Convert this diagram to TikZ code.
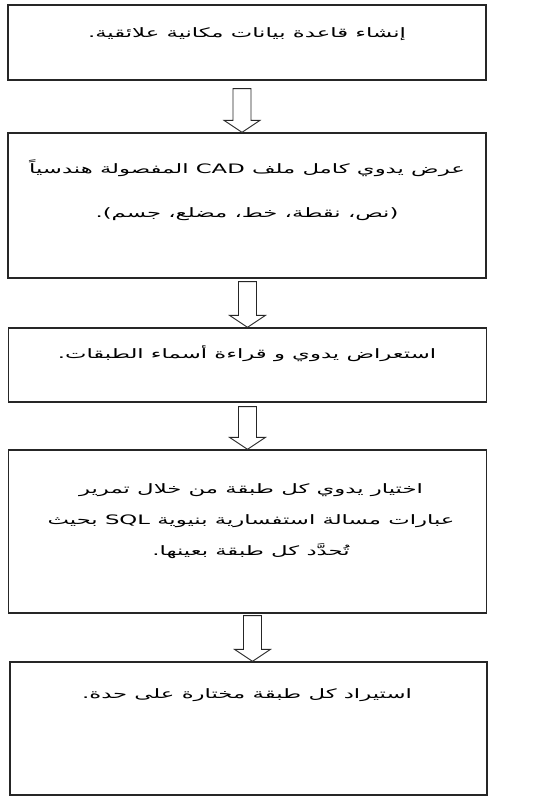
\documentclass[tikz,border=0pt]{standalone}
\usepackage{fontspec}
\newfontfamily\arabicfont[Script=Arabic, FakeStretch=1.75]{DejaVu Sans}
\TeXXeTstate=1
\usetikzlibrary{calc}
\tikzstyle{stage}=[rectangle, draw=black!85, line width=1.3pt, minimum width=478pt, inner sep=0pt]
\tikzstyle{stagetext}=[font=\arabicfont\fontsize{13}{31}\selectfont, inner sep=0pt, align=center]
\tikzstyle{hollow}=[draw=black!85, line width=0.9pt, fill=white, line join=miter]
% hollow block arrow: from, to, gap below the upper box, shift of the tip
\newcommand{\hollowarrow}[4]{%
  \draw[hollow] let \p1=(#1.south), \p2=(#2.north) in
    (\x2+#4-9pt,\y1-#3) -- (\x2+#4-9pt,\y2+12pt) -- (\x2+#4-18pt,\y2+12pt)
    -- (\x2+#4,\y2) -- (\x2+#4+18pt,\y2+12pt) -- (\x2+#4+9pt,\y2+12pt)
    -- (\x2+#4+9pt,\y1-#3) -- cycle;}

\begin{document}
\begin{tikzpicture}[x=1pt, y=-1pt]
  \useasboundingbox[fill=white] (0,0) rectangle (532,799);
  % boxes
  \node(n1)[stage, minimum height=75pt] at (247,42.5) {};
  \node(n2)[stage, minimum height=145pt] at (247,205.5) {};
  \node(n3)[stage, minimum height=74pt] at (247.5,365) {};
  \node(n4)[stage, minimum height=163pt] at (247.5,531.5) {};
  \node(n5)[stage, minimum height=133pt, minimum width=477pt] at (248.5,728.5) {};
  % texts
  \node(t1)[stagetext] at (247,34) {\beginR إنشاء قاعدة بيانات مكانية علائقية.\endR};
  \node(t2)[stagetext, font=\arabicfont\fontsize{13}{44}\selectfont] at (247,190) {\beginR عرض يدوي كامل ملف \beginL CAD\endL{} المفصولة هندسياً\endR\\
    \beginR (نص، نقطة، خط، مضلع، جسم).\endR};
  \node(t3)[stagetext] at (247,354) {\beginR استعراض يدوي و قراءة أسماء الطبقات.\endR};
  \node(t4)[stagetext] at (251,521) {\beginR اختيار يدوي كل طبقة من خلال تمرير\endR\\
    \beginR عبارات مسالة استفسارية بنيوية \beginL SQL\endL{} بحيث\endR\\
    \beginR تُحدَّد كل طبقة بعينها.\endR};
  \node(t5)[stagetext] at (247,695) {\beginR استيراد كل طبقة مختارة على حدة.\endR};
  % arrows
  \hollowarrow{n1}{n2}{8pt}{-5pt}
  \hollowarrow{n2}{n3}{3pt}{0pt}
  \hollowarrow{n3}{n4}{4pt}{0pt}
  \hollowarrow{n4}{n5}{2pt}{4pt}
\end{tikzpicture}
\end{document}
